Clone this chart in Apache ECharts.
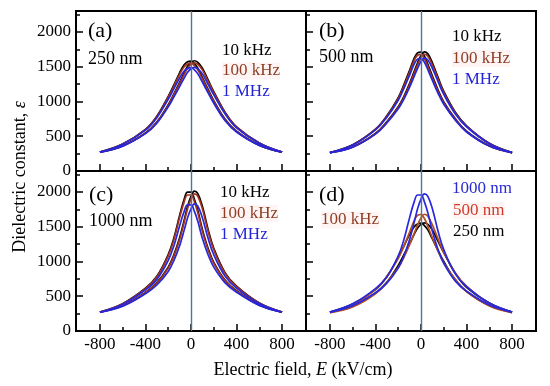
<!DOCTYPE html>
<html><head><meta charset="utf-8">
<script src="https://cdn.jsdelivr.net/npm/echarts@6/dist/echarts.min.js"></script>
<style>html,body{margin:0;padding:0;background:#fff}#c{width:550px;height:386px}</style>
</head><body><div id="c"></div>
<script>
// Electric field grid (kV/cm)
const fieldKV = [-800,-600,-400,-300,-200,-150,-100,-60,-30,0,30,60,100,150,200,300,400,600,800];
// Tick values
const xMajorTicks = [-800,-400,0,400,800];
const xMinorTicks = [-600,-200,200,600];
const yMajorTicks = [0,500,1000,1500,2000];
const yMinorTicks = [250,750,1250,1750,2250];

// (a) 250 nm  — branch peaking at negative field (A) and positive field (B)
const a10kA  = [272,388,599,788,1073,1239,1412,1526,1569,1580,1545,1479,1344,1173,1010,742,571,372,272];
const a10kB  = [272,361,547,705,954,1110,1274,1412,1506,1561,1585,1561,1479,1309,1141,843,634,404,272];
const a100kA = [272,387,595,781,1060,1221,1388,1498,1539,1550,1516,1453,1323,1157,999,736,568,371,272];
const a100kB = [272,360,544,699,944,1096,1255,1388,1479,1532,1555,1532,1453,1289,1126,835,629,402,272];
const a1MA   = [271,384,587,766,1032,1183,1337,1438,1475,1485,1454,1396,1277,1124,974,722,560,368,271];
const a1MB   = [271,358,537,687,922,1066,1214,1337,1420,1469,1490,1469,1396,1245,1094,818,620,399,271];

// (b) 500 nm
const b10kA  = [265,377,602,794,1056,1242,1449,1621,1698,1710,1650,1535,1365,1164,993,753,571,362,265];
const b10kB  = [265,346,539,707,924,1074,1262,1429,1556,1660,1713,1684,1556,1345,1146,849,650,398,265];
const b100kA = [265,375,597,786,1041,1221,1421,1588,1664,1675,1617,1505,1340,1146,980,746,567,361,265];
const b100kB = [265,345,535,701,912,1058,1241,1402,1525,1626,1678,1650,1525,1321,1128,839,645,396,265];
const b1MA   = [264,373,590,773,1017,1189,1378,1537,1609,1620,1564,1457,1301,1117,959,734,561,358,264];
const b1MB   = [264,343,530,690,894,1034,1207,1360,1476,1574,1623,1596,1476,1283,1101,824,636,393,264];

// (c) 1000 nm
const c10kA  = [272,393,615,786,1098,1340,1662,1894,1995,1995,1894,1733,1461,1189,987,729,578,375,272];
const c10kB  = [272,363,554,695,917,1098,1340,1592,1793,1935,2011,1975,1793,1461,1189,836,645,403,272];
const c100kA = [272,391,610,776,1080,1316,1630,1856,1955,1955,1856,1699,1433,1169,972,721,574,373,272];
const c100kB = [272,362,550,688,904,1080,1316,1561,1758,1897,1971,1936,1758,1433,1169,825,639,401,272];
const c1MA   = [270,385,591,742,1016,1227,1512,1720,1812,1812,1720,1576,1333,1096,919,692,558,368,270];
const c1MB   = [270,357,535,661,856,1016,1227,1450,1629,1757,1827,1794,1629,1333,1096,785,616,394,270];

const C10k = '#000000', C100k = '#a3341e', C1M = '#2626dc';
const C250 = '#000000', C500 = '#b4501e', C1000 = '#2828e0';
const FONT = 'Liberation Serif';

const GRIDS = [
  {left:76, top:11}, {left:306, top:11}, {left:76, top:171}, {left:306, top:171}
];

function pairs(v){ return fieldKV.map((x,i)=>[x, v[i]]); }
function ser(g, v, color){
  return {type:'line', xAxisIndex:2*g, yAxisIndex:2*g, data:pairs(v), symbol:'none', showSymbol:false,
          smooth:0.4, lineStyle:{color:color, width:1.7}, silent:true};
}
function zeroLine(g){
  return {type:'line', xAxisIndex:2*g, yAxisIndex:2*g, data:[], symbol:'none', z:5,
    markLine:{silent:true, symbol:['none','none'], label:{show:false}, animation:false,
      lineStyle:{color:'#4c7896', width:1.4, type:'solid'}, data:[{xAxis:0}]}};
}
const plain = v => String(v);

const xAxes = [], yAxes = [];
GRIDS.forEach((g,i)=>{
  xAxes.push({type:'value', gridIndex:i, min:-1010, max:1010, position:'bottom',
    axisLine:{show:true, onZero:false, lineStyle:{color:'#000', width:2}},
    axisTick:{show:true, inside:true, length:7, lineStyle:{color:'#000', width:1.5}, customValues:xMajorTicks},
    axisLabel:{show:i>=2, customValues:xMajorTicks, margin:5, color:'#000', fontFamily:FONT, fontSize:17, formatter:plain},
    splitLine:{show:false}});
  xAxes.push({type:'value', gridIndex:i, min:-1010, max:1010, position:'bottom',
    axisLine:{show:false, onZero:false},
    axisTick:{show:true, inside:true, length:4, lineStyle:{color:'#000', width:1.5}, customValues:xMinorTicks},
    axisLabel:{show:false}, splitLine:{show:false}});
  yAxes.push({type:'value', gridIndex:i, min:0, max:2300, position:'left',
    axisLine:{show:true, onZero:false, lineStyle:{color:'#000', width:2}},
    axisTick:{show:true, inside:true, length:7, lineStyle:{color:'#000', width:1.5}, customValues:yMajorTicks},
    axisLabel:{show:(i%2===0), customValues:yMajorTicks, margin:5, color:'#000', fontFamily:FONT, fontSize:17, formatter:plain},
    splitLine:{show:false}});
  yAxes.push({type:'value', gridIndex:i, min:0, max:2300, position:'left',
    axisLine:{show:false, onZero:false},
    axisTick:{show:true, inside:true, length:4, lineStyle:{color:'#000', width:1.5}, customValues:yMinorTicks},
    axisLabel:{show:false}, splitLine:{show:false}});
});

const series = [
  ser(0,a10kA,C10k), ser(0,a10kB,C10k), ser(0,a100kA,C100k), ser(0,a100kB,C100k), ser(0,a1MA,C1M), ser(0,a1MB,C1M),
  ser(1,b10kA,C10k), ser(1,b10kB,C10k), ser(1,b100kA,C100k), ser(1,b100kB,C100k), ser(1,b1MA,C1M), ser(1,b1MB,C1M),
  ser(2,c10kA,C10k), ser(2,c10kB,C10k), ser(2,c100kA,C100k), ser(2,c100kB,C100k), ser(2,c1MA,C1M), ser(2,c1MB,C1M),
  ser(3,a100kA,C250), ser(3,a100kB,C250), ser(3,b100kA,C500), ser(3,b100kB,C500), ser(3,c100kA,C1000), ser(3,c100kB,C1000),
  zeroLine(0), zeroLine(1), zeroLine(2), zeroLine(3)
];

function txt(s, x, y, size, color, bg){
  const st = {text:s, fill:color||'#000', fontFamily:FONT, fontSize:size, align:'left', verticalAlign:'middle'};
  if (bg) { st.backgroundColor = bg; }
  return {type:'text', x:x, y:y, z:100, silent:true, style:st};
}
const PINK = 'rgba(252,220,220,0.3)';
const graphics = [
  txt('(a)', 88, 31.5, 22), txt('250 nm', 88, 59, 18),
  txt('10 kHz', 222, 50.5, 17), txt('100 kHz', 222, 71, 17, '#8e3e24', PINK), txt('1 MHz', 222, 91.5, 17, '#2424d8'),
  txt('(b)', 319, 31.5, 22), txt('500 nm', 319, 57.5, 18),
  txt('10 kHz', 452, 36.5, 17), txt('100 kHz', 452, 58.5, 17, '#8e3e24', PINK), txt('1 MHz', 452, 80, 17, '#2424d8'),
  txt('(c)', 89, 195, 22), txt('1000 nm', 89, 221.5, 18),
  txt('10 kHz', 220, 193, 17), txt('100 kHz', 220, 213.5, 17, '#8e3e24', PINK), txt('1 MHz', 220, 235, 17, '#2424d8'),
  txt('(d)', 319, 195, 22), txt('100 kHz', 321, 220, 17, '#8e3e24', PINK),
  txt('1000 nm', 452, 188.5, 17, '#2a2ad0'), txt('500 nm', 453, 210.5, 17, '#d03a28', PINK), txt('250 nm', 453, 231.5, 17),
  {type:'text', x:303, y:370, z:100, silent:true, style:{
    text:'{n|Electric field, }{i|E}{n| (kV/cm)}', align:'center', verticalAlign:'middle',
    rich:{n:{fontFamily:FONT, fontSize:18, fill:'#000'}, i:{fontFamily:FONT, fontSize:18, fontStyle:'italic', fill:'#000'}}}},
  {type:'text', x:20, y:177, rotation:Math.PI/2, z:100, silent:true, style:{
    text:'{n|Dielectric constant, }{i|ε}', align:'center', verticalAlign:'middle',
    rich:{n:{fontFamily:FONT, fontSize:18, fill:'#000'}, i:{fontFamily:FONT, fontSize:18, fontStyle:'italic', fill:'#000'}}}}
];

const chart = echarts.init(document.getElementById('c'), null, {renderer:'canvas'});
chart.setOption({
  animation:false,
  backgroundColor:'#fff',
  grid: GRIDS.map(g=>({left:g.left, top:g.top, width:230, height:160, show:true, borderColor:'#000', borderWidth:2, backgroundColor:'transparent'})),
  xAxis:xAxes, yAxis:yAxes, series:series, graphic:graphics
});
</script></body></html>
